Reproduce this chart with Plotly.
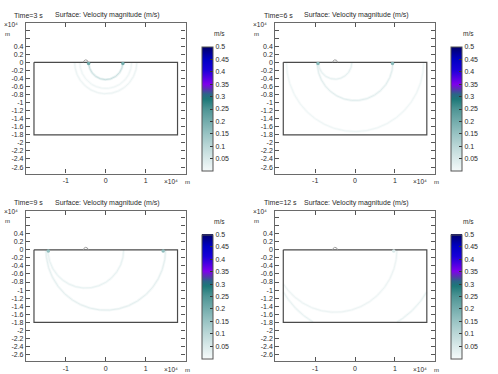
import numpy as np
import plotly.graph_objects as go
from plotly.colors import sample_colorscale

W, H = 498, 374

# ---------------- data ----------------
times = [3, 6, 9, 12]
# wave fronts: panel index, centre x (m), radius (m), velocity magnitude (m/s)
arc_panel = [0, 0, 0, 1, 1, 1, 2, 2, 3, 3]
arc_cx = [0, 0, 0, 0, -5000, 0, 0, -5000, 0, -5000]
arc_r = [4300, 7800, 6500, 9500, 4200, 17200, 15000, 9500, 20800, 15500]
arc_v = [0.1, 0.025, 0.018, 0.05, 0.04, 0.02, 0.045, 0.035, 0.035, 0.025]
# bright spots where the fronts meet the surface
spot_panel = [0, 0, 1, 1, 2, 2, 3]
spot_x = [-4300, 4300, -9300, 9400, -14400, 14400, 9700]
spot_v = [0.2, 0.2, 0.17, 0.17, 0.16, 0.16, 0.05]
# geometry
dom_x = [-18000, 18000]
dom_y = [-18000, 0]
source_x = -5000
source_r = 600
# axes
x_range = [-20000, 20000]
y_range = [-27600, 9750]
xtick_vals = [-10000, 0, 10000]
xtick_text = ["-1", "0", "1"]
ytick_vals = [-26000, -24000, -22000, -20000, -18000, -16000, -14000, -12000, -10000, -8000,
              -6000, -4000, -2000, 0, 2000, 4000]
ytick_text = ["-2.6", "-2.4", "-2.2", "-2", "-1.8", "-1.6", "-1.4", "-1.2", "-1", "-0.8",
              "-0.6", "-0.4", "-0.2", "0", "0.2", "0.4"]
yminor_vals = [6000, 8000]
cbar_vals = [0.05, 0.1, 0.15, 0.2, 0.25, 0.3, 0.35, 0.4, 0.45, 0.5]
cbar_text = ["0.05", "0.1", "0.15", "0.2", "0.25", "0.3", "0.35", "0.4", "0.45", "0.5"]
vmin, vmax = 0.0, 0.5

colorscale = [
    [0.0, "#f4f9f9"], [0.1, "#d8e9e9"], [0.2, "#bad7d7"], [0.3, "#98c3c3"],
    [0.4, "#73acac"], [0.5, "#4d9494"], [0.58, "#1d7878"], [0.62, "#2c6488"],
    [0.66, "#5a30b4"], [0.7, "#7f00ec"], [0.76, "#4a00e2"], [0.82, "#1800d8"],
    [0.9, "#0000c4"], [1.0, "#00006a"],
]

# ---------------- layout geometry (pixels) ----------------
panel_dx = [0, 249.3, 0, 249.3]
panel_dy = [0, 0, 187.5, 187.5]
frame_l, frame_r, frame_t, frame_b = 26, 185.5, 23, 173.5
cb_l, cb_t, cb_b, cb_w = 202, 47, 171, 11
FONT = "Liberation Sans, Arial, sans-serif"
TXT = "#2a2a2a"

def px(x):
    return x / W

def py(y):
    return 1 - y / H

fig = go.Figure()
annotations = []
layout = {}

theta = np.linspace(0, np.pi, 400)

for p in range(4):
    dx, dy = panel_dx[p], panel_dy[p]
    xa = "x" if p == 0 else f"x{p+1}"
    ya = "y" if p == 0 else f"y{p+1}"
    xkey = "xaxis" if p == 0 else f"xaxis{p+1}"
    ykey = "yaxis" if p == 0 else f"yaxis{p+1}"

    axis_common = dict(
        showgrid=False, zeroline=False, showline=True, linecolor="#6a6a6a", linewidth=1.2,
        mirror="ticks", ticks="inside", ticklen=4, tickcolor="#555555", tickwidth=1,
        tickfont=dict(family=FONT, size=7, color=TXT),
    )
    layout[xkey] = dict(axis_common, domain=[px(frame_l + dx), px(frame_r + dx)],
                        range=x_range, tickvals=xtick_vals, ticktext=xtick_text,
                        anchor=ya)
    layout[ykey] = dict(axis_common, domain=[py(frame_b + dy), py(frame_t + dy)],
                        range=y_range, tickvals=ytick_vals, ticktext=ytick_text,
                        minor=dict(tickvals=yminor_vals, ticks="inside", ticklen=4,
                                   tickcolor="#555555", tickwidth=1, showgrid=False),
                        anchor=xa)

    # wave fronts
    for i in range(len(arc_panel)):
        if arc_panel[i] != p:
            continue
        xs = arc_cx[i] + arc_r[i] * np.cos(theta)
        ys = -arc_r[i] * np.sin(theta)
        inside = (xs >= dom_x[0]) & (xs <= dom_x[1]) & (ys >= dom_y[0])
        xs = np.where(inside, xs, np.nan)
        ys = np.where(inside, ys, np.nan)
        col = sample_colorscale(colorscale, [(arc_v[i] - vmin) / (vmax - vmin)])[0]
        fig.add_trace(go.Scatter(x=xs, y=ys, mode="lines", xaxis=xa, yaxis=ya,
                                 line=dict(color=col, width=2.6), opacity=0.3,
                                 hoverinfo="skip", showlegend=False))
        fig.add_trace(go.Scatter(x=xs, y=ys, mode="lines", xaxis=xa, yaxis=ya,
                                 line=dict(color=col, width=0.9), opacity=0.7,
                                 hoverinfo="skip", showlegend=False))

    # domain outline
    fig.add_trace(go.Scatter(
        x=[dom_x[0], dom_x[1], dom_x[1], dom_x[0], dom_x[0]],
        y=[dom_y[1], dom_y[1], dom_y[0], dom_y[0], dom_y[1]],
        mode="lines", xaxis=xa, yaxis=ya, line=dict(color="#4a4a4a", width=1.2),
        hoverinfo="skip", showlegend=False))
    # small source bump
    th2 = np.linspace(0, np.pi, 30)
    fig.add_trace(go.Scatter(x=source_x + source_r * np.cos(th2), y=source_r * np.sin(th2),
                             mode="lines", xaxis=xa, yaxis=ya,
                             line=dict(color="#9a9a9a", width=1),
                             hoverinfo="skip", showlegend=False))

    # surface spots + colour bar
    sx = [spot_x[i] for i in range(len(spot_panel)) if spot_panel[i] == p]
    sv = [spot_v[i] for i in range(len(spot_panel)) if spot_panel[i] == p]
    fig.add_trace(go.Scatter(
        x=sx, y=[-300] * len(sx), mode="markers", xaxis=xa, yaxis=ya,
        marker=dict(size=3.5, color=sv, colorscale=colorscale, cmin=vmin, cmax=vmax,
                    line=dict(width=0), showscale=True,
                    colorbar=dict(
                        x=px(cb_l + dx), xanchor="left", xpad=0,
                        y=py((cb_t + cb_b) / 2 + dy), yanchor="middle", ypad=0,
                        len=cb_b - cb_t, lenmode="pixels",
                        thickness=cb_w, thicknessmode="pixels",
                        outlinewidth=1, outlinecolor="#555555",
                        tickvals=cbar_vals, ticktext=cbar_text,
                        ticks="inside", ticklen=3, tickcolor="#333333",
                        tickfont=dict(family=FONT, size=7, color=TXT),
                        borderwidth=0, bgcolor="rgba(0,0,0,0)")),
        hoverinfo="skip", showlegend=False))

    # texts
    def ann(text, x, y, xanchor="left", size=7):
        annotations.append(dict(text=text, x=px(x), y=py(y), xref="paper", yref="paper",
                                xanchor=xanchor, yanchor="middle", showarrow=False,
                                font=dict(family=FONT, size=size, color=TXT)))
    ann(f"Time={times[p]} s", 12.3 + dx, 15 + dy)
    ann("Surface: Velocity magnitude (m/s)", 52.7 + dx, 15 + dy)
    ann("×10⁴", 1.5 + dx, 24 + dy, size=6.5)
    ann("m", 2.5 + dx, 33.5 + dy, size=6)
    ann("×10⁴", 162 + dx, 181.5 + dy, size=6.5)
    ann("m", 183 + dx, 182 + dy, size=6)
    ann("m/s", 219 + dx, 33.5 + dy, xanchor="center", size=6.5)

fig.update_layout(
    width=W, height=H, margin=dict(l=0, r=0, t=0, b=0),
    paper_bgcolor="white", plot_bgcolor="white",
    annotations=annotations, showlegend=False, **layout)

fig.write_html("out.html", config={"displayModeBar": False},
               post_script="document.body.style.margin='0px';document.body.style.padding='0px';")
